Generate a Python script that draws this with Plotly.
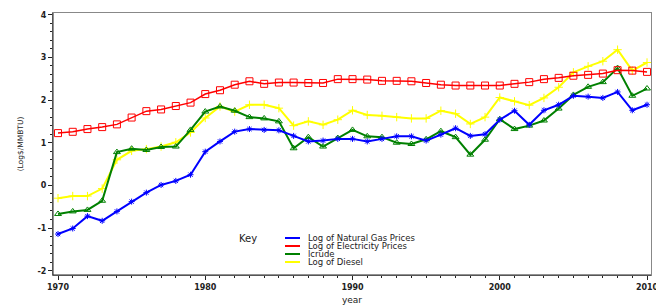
import plotly.graph_objects as go

years = list(range(1970, 2011))

natural_gas = [-1.14, -1.01, -0.72, -0.83, -0.61, -0.38, -0.17, 0.01, 0.105, 0.25,
               0.79, 1.03, 1.26, 1.32, 1.30, 1.29, 1.16, 1.03, 1.05, 1.09,
               1.09, 1.03, 1.09, 1.15, 1.15, 1.05, 1.19, 1.34, 1.16, 1.20,
               1.54, 1.75, 1.42, 1.76, 1.89, 2.10, 2.08, 2.05, 2.19, 1.76, 1.89]

electricity = [1.225, 1.256, 1.32, 1.366, 1.43, 1.59, 1.74, 1.78, 1.86, 1.94,
               2.14, 2.23, 2.36, 2.44, 2.38, 2.41, 2.41, 2.40, 2.40, 2.49,
               2.49, 2.48, 2.45, 2.45, 2.44, 2.40, 2.36, 2.34, 2.34, 2.34,
               2.34, 2.38, 2.42, 2.49, 2.52, 2.57, 2.59, 2.62, 2.70, 2.69, 2.66]

lcrude = [-0.67, -0.61, -0.575, -0.36, 0.78, 0.86, 0.83, 0.90, 0.91, 1.30,
          1.73, 1.85, 1.75, 1.60, 1.57, 1.50, 0.87, 1.13, 0.91, 1.11,
          1.30, 1.15, 1.13, 1.00, 0.97, 1.08, 1.27, 1.13, 0.72, 1.07,
          1.55, 1.32, 1.40, 1.52, 1.80, 2.12, 2.31, 2.42, 2.75, 2.10, 2.27]

diesel = [-0.30, -0.25, -0.25, -0.075, 0.60, 0.81, 0.85, 0.91, 1.01, 1.24,
          1.58, 1.85, 1.73, 1.89, 1.89, 1.81, 1.40, 1.50, 1.42, 1.54,
          1.76, 1.65, 1.63, 1.60, 1.57, 1.57, 1.75, 1.68, 1.44, 1.60,
          2.06, 1.97, 1.88, 2.05, 2.30, 2.65, 2.79, 2.91, 3.18, 2.69, 2.88]

series_names = ["Log of Natural Gas Prices", "Log of Electricity Prices", "lcrude", "Log of Diesel"]
x_ticks = [1970, 1980, 1990, 2000, 2010]
y_ticks = [-2, -1, 0, 1, 2, 3, 4]

W, H = 656, 305
ML, MR, MT, MB = 53, 5, 13, 30
PW, PH = W - ML - MR, H - MT - MB

def px(x):
    return (x - ML) / PW

def py(y):
    return (H - MB - y) / PH

fig = go.Figure()

styles = [
    (natural_gas, "#0000FF", "asterisk-open", 5, 2),
    (electricity, "#FF0000", "square-open", 7, 1.5),
    (lcrude, "#008000", "triangle-up-open", 6, 2),
    (diesel, "#FFFF00", "cross-thin-open", 6, 2),
]
for idx in [3, 2, 0, 1]:
    vals, col, sym, ms, lw = styles[idx]
    fig.add_trace(go.Scatter(
        x=years, y=vals, mode="lines+markers", name=series_names[idx],
        line=dict(color=col, width=lw),
        marker=dict(symbol=sym, size=ms, color=col, line=dict(color=col, width=1)),
        showlegend=False,
    ))

font_family = "DejaVu Sans, Verdana, sans-serif"
tick_font = dict(size=8, family=font_family, color="#222", weight="bold")

fig.update_layout(
    width=W, height=H,
    margin=dict(l=ML, r=MR, t=MT, b=MB),
    paper_bgcolor="white", plot_bgcolor="white",
    font=dict(family=font_family, size=9, color="#222"),
    showlegend=False,
)

fig.update_xaxes(
    range=[1969.66, 2010.27], automargin=False,
    tickvals=x_ticks, ticktext=[str(v) for v in x_ticks],
    ticks="outside", ticklen=4, tickcolor="#222", tickwidth=1,
    minor=dict(dtick=1, ticks="outside", ticklen=2, tickcolor="#222"),
    showgrid=False, zeroline=False,
    showline=True, linecolor="#888", linewidth=1, mirror=True,
    ticklabeloverflow="allow",
    tickfont=tick_font,
    title=dict(text="year", font=dict(size=9, color="#222", family=font_family), standoff=6),
)
fig.update_yaxes(
    range=[-2.1, 4.04], automargin=False,
    tickvals=y_ticks, ticktext=[str(v) for v in y_ticks],
    ticks="outside", ticklen=4, tickcolor="#222", tickwidth=1,
    minor=dict(dtick=0.2, ticks="outside", ticklen=2, tickcolor="#222"),
    showgrid=False, zeroline=False,
    showline=True, linecolor="#888", linewidth=1, mirror=True,
    tickfont=tick_font,
    title=dict(text="(Log$/MMBTU)", font=dict(size=7.5, color="#222", family=font_family), standoff=12),
)

fig.add_shape(type="line", xref="paper", yref="paper", x0=0, x1=0, y0=0, y1=1,
              line=dict(color="#222", width=1))
fig.add_shape(type="line", xref="paper", yref="paper", x0=0, x1=1, y0=0, y1=0,
              line=dict(color="#222", width=1))

fig.add_annotation(xref="paper", yref="paper", x=px(237), y=py(238), text="Key",
                   showarrow=False, xanchor="left", yanchor="middle",
                   font=dict(size=10, family=font_family, color="#222"))
legend_rows = [238, 246, 254, 262]
legend_cols = ["#0000FF", "#FF0000", "#008000", "#FFFF00"]
for name, col, yy in zip(series_names, legend_cols, legend_rows):
    fig.add_shape(type="line", xref="paper", yref="paper",
                  x0=px(285), x1=px(300), y0=py(yy), y1=py(yy),
                  line=dict(color=col, width=2))
    fig.add_annotation(xref="paper", yref="paper", x=px(306), y=py(yy), text=name,
                       showarrow=False, xanchor="left", yanchor="middle",
                       font=dict(size=8.5, family=font_family, color="#222"))

fig.write_html(
    "out.html",
    config={"displayModeBar": False},
    post_script="document.body.style.margin='0';document.body.style.overflow='hidden';",
)
